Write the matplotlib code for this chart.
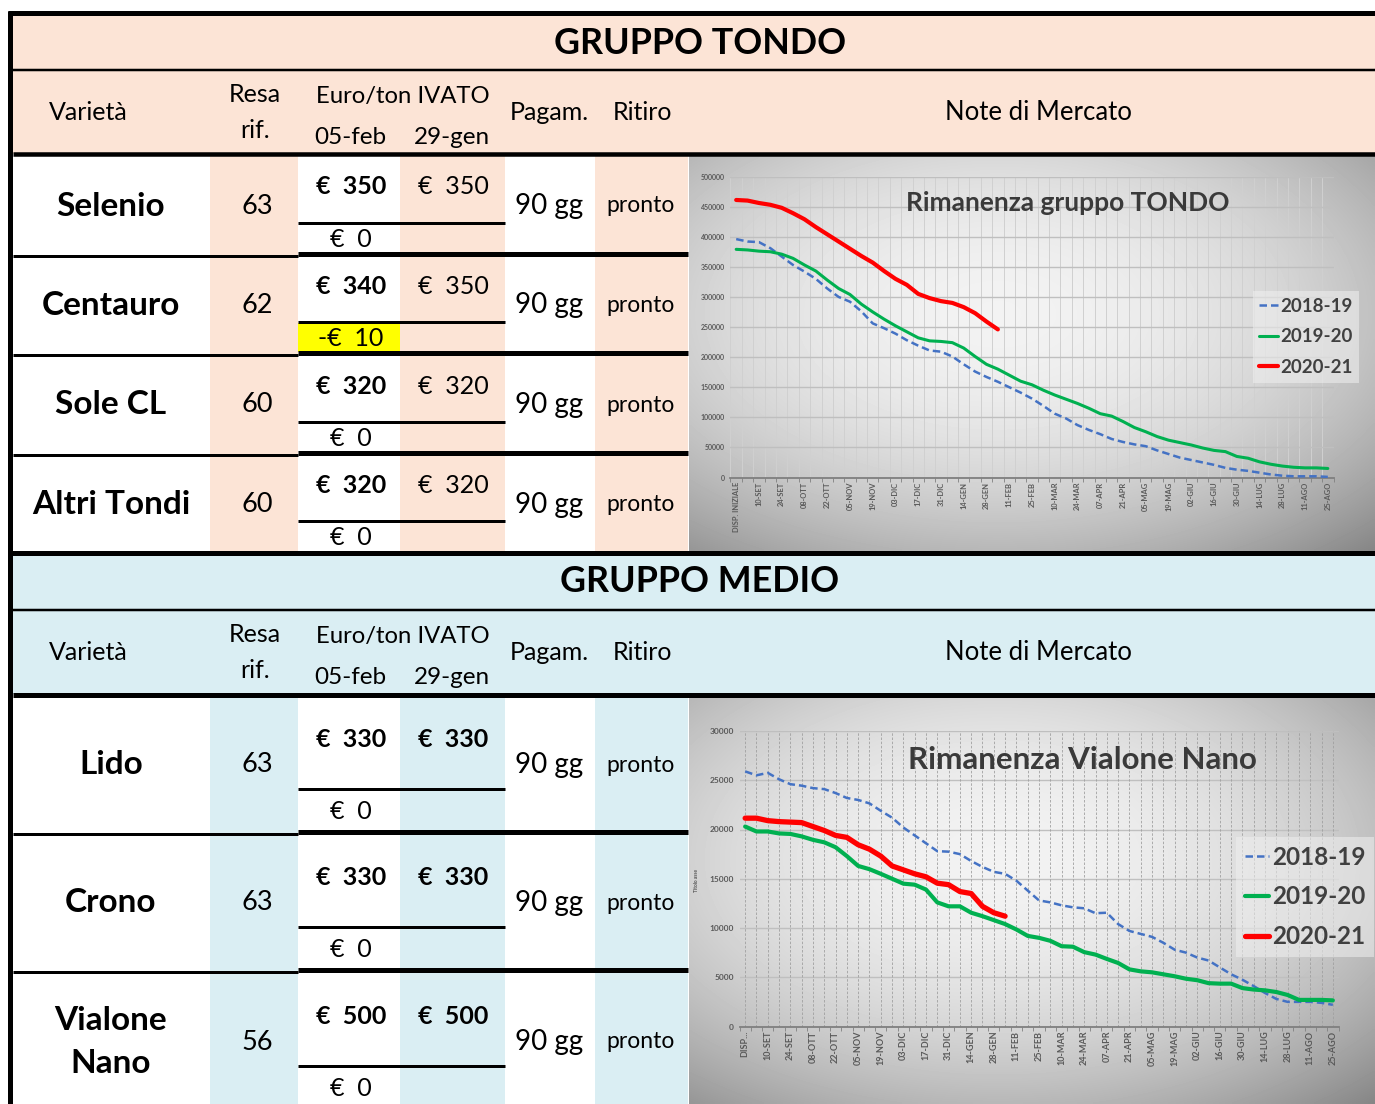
import numpy as np
import matplotlib.pyplot as plt
from matplotlib.patches import Rectangle

plt.rcParams['font.family'] = ['Lato', 'DejaVu Sans']

W, H = 1375, 1104

# ---- table data ----
TONDO_VARIETA = ['Selenio', 'Centauro', 'Sole CL', 'Altri Tondi']
TONDO_RESA = [63, 62, 60, 60]
TONDO_05FEB = [350, 340, 320, 320]
TONDO_29GEN = [350, 350, 320, 320]

MEDIO_VARIETA = ['Lido', 'Crono', 'Vialone\nNano']
MEDIO_RESA = [63, 63, 56]
MEDIO_05FEB = [330, 330, 500]
MEDIO_29GEN = [330, 330, 500]

PAGAM = '90 gg'
RITIRO = 'pronto'
DATES = ['05-feb', '29-gen']

# ---- chart data (weekly stock, tonnes) ----
WEEKS = ['DISP. INIZIALE', '03-SET', '10-SET', '17-SET', '24-SET', '01-OTT', '08-OTT',
         '15-OTT', '22-OTT', '29-OTT', '05-NOV', '12-NOV', '19-NOV', '26-NOV', '03-DIC',
         '10-DIC', '17-DIC', '24-DIC', '31-DIC', '07-GEN', '14-GEN', '21-GEN', '28-GEN',
         '04-FEB', '11-FEB', '18-FEB', '25-FEB', '03-MAR', '10-MAR', '17-MAR', '24-MAR',
         '31-MAR', '07-APR', '14-APR', '21-APR', '28-APR', '05-MAG', '12-MAG', '19-MAG',
         '26-MAG', '02-GIU', '09-GIU', '16-GIU', '23-GIU', '30-GIU', '07-LUG', '14-LUG',
         '21-LUG', '28-LUG', '04-AGO', '11-AGO', '18-AGO', '25-AGO']
SEASONS = ['2018-19', '2019-20', '2020-21']

TONDO_1819 = [396000, 392000, 391000, 381000, 367000, 353000, 342000, 330000, 314000,
              300000, 292000, 276000, 256000, 248000, 239000, 228000, 219000, 211000,
              209000, 201000, 188000, 176000, 167000, 159000, 150000, 141000, 131000,
              119000, 106000, 98000, 87000, 79000, 72000, 64000, 59000, 55000, 52000,
              45000, 39000, 33000, 29000, 25000, 21000, 16000, 13000, 11000, 8000, 5000,
              3000, 2000, 2000, 2000, 1000]
TONDO_1920 = [379000, 378000, 376000, 375000, 371000, 364000, 353000, 343000, 328000,
              314000, 304000, 288000, 275000, 263000, 252000, 242000, 232000, 227000,
              226000, 224000, 215000, 201000, 188000, 180000, 170000, 160000, 154000,
              145000, 137000, 130000, 123000, 115000, 106000, 102000, 93000, 83000, 76000,
              68000, 62000, 58000, 54000, 49000, 45000, 43000, 35000, 32000, 26000, 22000,
              19000, 17000, 16000, 16000, 15000]
TONDO_2021 = [461000, 460000, 456000, 453000, 448000, 439000, 429000, 416000, 404000,
              392000, 380000, 368000, 357000, 343000, 330000, 320000, 305000, 298000,
              293000, 290000, 283000, 273000, 259000, 246000]

VIALONE_1819 = [25900, 25500, 25750, 25100, 24600, 24450, 24200, 24100, 23700, 23200,
                23000, 22650, 21900, 21200, 20200, 19400, 18600, 17800, 17750, 17500,
                16800, 16200, 15700, 15500, 14800, 13800, 12800, 12600, 12300, 12100,
                12000, 11500, 11550, 10400, 9700, 9400, 9100, 8500, 7800, 7500, 7000,
                6700, 6000, 5300, 4750, 4100, 3400, 2800, 2500, 2500, 2500, 2400, 2200]
VIALONE_1920 = [20300, 19800, 19800, 19600, 19550, 19300, 18950, 18700, 18200, 17300,
                16300, 15970, 15500, 15000, 14500, 14400, 13900, 12600, 12200, 12200,
                11550, 11200, 10800, 10400, 9850, 9200, 9000, 8700, 8150, 8100, 7550,
                7300, 6860, 6450, 5800, 5600, 5500, 5300, 5100, 4850, 4700, 4400, 4350,
                4350, 3900, 3750, 3670, 3500, 3200, 2700, 2700, 2700, 2650]
VIALONE_2021 = [21150, 21150, 20900, 20800, 20750, 20700, 20300, 19900, 19400, 19200,
                18450, 18000, 17300, 16300, 15900, 15500, 15200, 14550, 14400, 13700,
                13500, 12200, 11550, 11200]

PEACH = '#FCE4D6'
LIGHTBLUE = '#DAEEF3'
SERIES_COLORS = ['#4472C4', '#00B050', '#FF0000']
SERIES_LS = [(0, (3, 1.6)), '-', '-']

COLS = [13, 210, 298, 400, 505, 595, 688]


def px_box(x0, y0, x1, y1):
    return [x0 / W, 1 - y1 / H, (x1 - x0) / W, (y1 - y0) / H]


fig = plt.figure(figsize=(W / 100, H / 100), dpi=100)
fig.patch.set_facecolor('white')
tab = fig.add_axes([0, 0, 1, 1])
tab.set_xlim(0, W)
tab.set_ylim(H, 0)
tab.axis('off')


def draw_group(title, varieta, resa, feb, gen, top, title_bot, head_bot, rows, bg, gen_bold):
    tab.add_patch(Rectangle((13, top), W - 13, head_bot - top, color=bg, lw=0))
    for x0, x1 in [(COLS[1], COLS[2]), (COLS[3], COLS[4]), (COLS[5], COLS[6])]:
        tab.add_patch(Rectangle((x0, head_bot), x1 - x0, rows[-1] - head_bot, color=bg, lw=0))

    tab.text(700, (top + title_bot) / 2 + 1, title, ha='center', va='center',
             fontsize=25.8, weight='bold')
    hy = title_bot
    hfs = 18
    tab.text(88, hy + 43, 'Varietà', ha='center', va='center', fontsize=hfs)
    tab.text(255, hy + 25, 'Resa', ha='center', va='center', fontsize=hfs)
    tab.text(255, hy + 60, 'rif.', ha='center', va='center', fontsize=hfs)
    tab.text(403, hy + 27, 'Euro/ton IVATO', ha='center', va='center', fontsize=17.2)
    tab.text(350, hy + 68, DATES[0], ha='center', va='center', fontsize=17.5)
    tab.text(452, hy + 68, DATES[1], ha='center', va='center', fontsize=17.5)
    tab.text(549, hy + 43, 'Pagam.', ha='center', va='center', fontsize=hfs)
    tab.text(643, hy + 43, 'Ritiro', ha='center', va='center', fontsize=hfs)
    tab.text(1038, hy + 43, 'Note di Mercato', ha='center', va='center', fontsize=18.5)

    for i, name in enumerate(varieta):
        r0, r1 = rows[i], rows[i + 1]
        h = r1 - r0
        cy = (r0 + r1) / 2 + 2
        sub = r0 + 0.685 * h
        diff = feb[i] - gen[i]
        if diff != 0:
            tab.add_patch(Rectangle((COLS[2], sub + 1), COLS[3] - COLS[2], r1 - sub - 2,
                                    color='#FFFF00', lw=0))
        lbl = f'€  {diff}' if diff >= 0 else f'-€  {abs(diff)}'
        tab.text(111, cy, name, ha='center', va='center', fontsize=24, weight='bold',
                 linespacing=1.6)
        tab.text(257, cy, str(resa[i]), ha='center', va='center', fontsize=19.5)
        tab.text(351, r0 + 0.33 * h, f'€  {feb[i]}', ha='center', va='center',
                 fontsize=18, weight='bold')
        tab.text(453, r0 + 0.33 * h, f'€  {gen[i]}', ha='center', va='center',
                 fontsize=18, weight='bold' if gen_bold else 'normal')
        tab.text(351, (sub + r1) / 2 + 1, lbl, ha='center', va='center', fontsize=18)
        tab.text(549, cy, PAGAM, ha='center', va='center', fontsize=20)
        tab.text(641, cy, RITIRO, ha='center', va='center', fontsize=16.5)
        ov_lines.append((sub, COLS[2], COLS[4], 3))
        if i < len(varieta) - 1:
            ov_lines.append((r1 + 1.5, 13, COLS[2], 3))
            ov_lines.append((r1, COLS[2], COLS[6], 5))


ov_lines = []
TONDO_ROWS = [154, 254, 353, 453, 552]
MEDIO_ROWS = [694, 832, 970, 1110]
draw_group('GRUPPO TONDO', TONDO_VARIETA, TONDO_RESA, TONDO_05FEB, TONDO_29GEN,
           15, 70, 154, TONDO_ROWS, PEACH, False)
draw_group('GRUPPO MEDIO', MEDIO_VARIETA, MEDIO_RESA, MEDIO_05FEB, MEDIO_29GEN,
           552, 610, 694, MEDIO_ROWS, LIGHTBLUE, True)


def gradient(box):
    bg = fig.add_axes(px_box(*box))
    bg.axis('off')
    yy, xx = np.mgrid[-1:1:120j, -1:1:200j]
    r2 = (xx + 0.1) ** 2 + (yy + 0.2) ** 2
    g = np.clip(0.95 - 0.16 * r2, 0, 1)
    bg.imshow(g, cmap='gray', vmin=0, vmax=1, aspect='auto', interpolation='bilinear')


def draw_chart(plot_box, series, ymax, ystep, lws, xfs, yfs, first_label, vdashed,
               legend_xy, legend_fs, handle_len, spacing):
    a = fig.add_axes(px_box(*plot_box))
    a.patch.set_alpha(0)
    x = np.arange(len(WEEKS))
    for values, label, color, ls, lw in zip(series, SEASONS, SERIES_COLORS, SERIES_LS, lws):
        a.plot(x[:len(values)], values, color=color, ls=ls, lw=lw, label=label,
               solid_joinstyle='round', solid_capstyle='round', zorder=3)
    a.set_xlim(-0.5, len(WEEKS) - 0.5)
    a.set_ylim(0, ymax)
    a.set_yticks(np.arange(0, ymax + 1, ystep))
    a.set_xticks(x)
    labels = [w if i % 2 == 0 else '' for i, w in enumerate(WEEKS)]
    labels[0] = first_label
    a.set_xticklabels(labels, rotation=90, fontsize=xfs, weight='bold', color='#595959')
    a.tick_params(axis='x', length=0, pad=3)
    a.tick_params(axis='y', length=0, pad=4, labelsize=yfs, labelcolor='#595959')
    for t in a.get_yticklabels():
        t.set_fontweight('bold')
    a.set_xticks(np.arange(-0.5, len(WEEKS), 1), minor=True)
    a.tick_params(axis='x', which='minor', length=3, color='#808080')
    for s in ['top', 'right', 'left']:
        a.spines[s].set_visible(False)
    a.spines['bottom'].set_color('#7f7f7f')
    a.spines['bottom'].set_linewidth(1.3)
    a.grid(axis='y', color='#bfbfbf', lw=1.0, zorder=1)
    if vdashed:
        for xi in x:
            a.axvline(xi, color='#a0a0a0', lw=0.6, ls=(0, (3, 2)), zorder=1)
    else:
        a.grid(axis='x', which='minor', color='#d0d0d0', lw=0.7, zorder=1)
    a.set_axisbelow(True)
    leg = a.legend(loc='center', bbox_to_anchor=(legend_xy[0] / W, 1 - legend_xy[1] / H),
                   bbox_transform=fig.transFigure, prop=dict(weight='bold', size=legend_fs),
                   handlelength=handle_len, handletextpad=0.12, labelspacing=spacing,
                   borderpad=0.35, fancybox=False, framealpha=0.55)
    leg.get_frame().set_facecolor('#f0f0f0')
    leg.get_frame().set_edgecolor('none')
    for t in leg.get_texts():
        t.set_color('#404040')
    return a


# chart 1 : gruppo tondo
gradient((689, 156, W, 551))
draw_chart((730.5, 176.5, 1333.5, 477.5), [TONDO_1819, TONDO_1920, TONDO_2021],
           500000, 50000, [1.8, 2.2, 3.0], 5.4, 5.0, 'DISP. INIZIALE', False,
           (1306, 337), 13.5, 1.0, 0.72)
fig.text(1068 / W, 1 - 203 / H, 'Rimanenza gruppo TONDO', ha='center', va='center',
         fontsize=19, weight='bold', color='#3a3a3a')

# chart 2 : vialone nano
gradient((689, 696, W, H))
draw_chart((739.5, 731, 1338.5, 1026.5), [VIALONE_1819, VIALONE_1920, VIALONE_2021],
           30000, 5000, [1.8, 3.0, 3.8], 6.5, 6.0, 'DISP...', True,
           (1305, 897), 17.5, 1.0, 0.68)
fig.text(1082 / W, 1 - 760 / H, 'Rimanenza Vialone Nano', ha='center', va='center',
         fontsize=22.5, weight='bold', color='#3a3a3a')
fig.text(697 / W, 1 - 880 / H, 'Titolo asse', ha='center', va='center', rotation=90,
         fontsize=3.5, weight='bold', color='#595959')

# table borders on top
ov = fig.add_axes([0, 0, 1, 1])
ov.set_xlim(0, W)
ov.set_ylim(H, 0)
ov.axis('off')
ov.patch.set_alpha(0)
border = [(13, 8, W, 5), (70, 13, W, 2.5), (154, 13, W, 4.5),
          (552.5, 8, W, 5), (610, 13, W, 2.5), (694.5, 13, W, 5)]
for y, x0, x1, px in border + ov_lines:
    ov.plot([x0, x1], [y, y], color='black', lw=px * 0.72, solid_capstyle='butt')
ov.plot([10.5, 10.5], [11, H], color='black', lw=5 * 0.72, solid_capstyle='butt')

fig.savefig('out.png', dpi=100)
